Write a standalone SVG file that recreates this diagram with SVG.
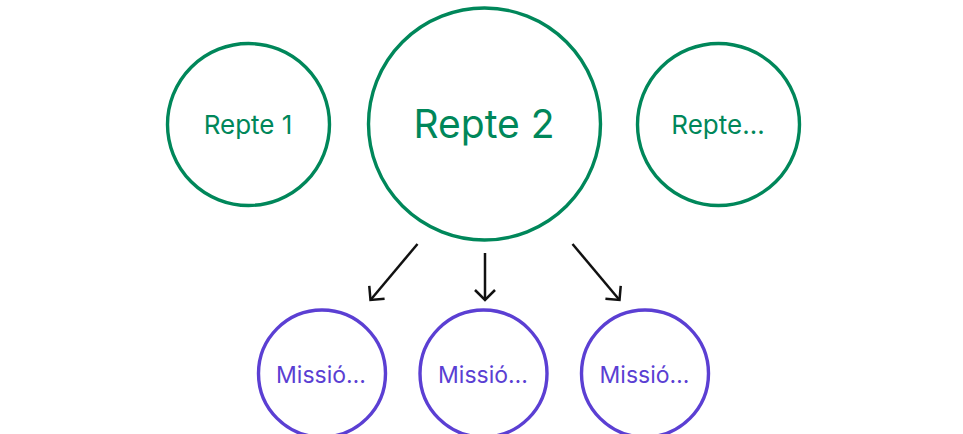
<svg xmlns="http://www.w3.org/2000/svg" width="963" height="434" viewBox="0 0 963 434">
  <style>
    .challenge circle { fill: #ffffff; stroke: #00875A; stroke-width: 3.4; }
    .challenge text { fill: #00875A; font-family: Inter, "Liberation Sans", sans-serif; text-anchor: middle; }
    .mission circle { fill: #ffffff; stroke: #5B3FD3; stroke-width: 3.4; }
    .mission text { fill: #5B3FD3; font-family: Inter, "Liberation Sans", sans-serif; font-size: 23px; text-anchor: middle; }
    .link { stroke: #111111; stroke-width: 2.5; fill: none; marker-end: url(#chevron); }
  </style>
  <defs>
    <!-- open 90-degree chevron arrowhead -->
    <marker id="chevron" viewBox="0 0 16 24" refX="13" refY="12" markerWidth="16" markerHeight="24" markerUnits="userSpaceOnUse" orient="auto">
      <path d="M3 2 L13 12 L3 22" fill="none" stroke="#111111" stroke-width="2.5"/>
    </marker>
  </defs>

  <rect width="963" height="434" fill="#ffffff"/>

  <g id="repte-1" class="challenge">
    <circle cx="248.5" cy="124.5" r="81"/>
    <text x="248" y="134" font-size="26">Repte 1</text>
  </g>
  <g id="repte-2" class="challenge">
    <circle cx="484.5" cy="124" r="116"/>
    <text x="484" y="138" font-size="39">Repte 2</text>
  </g>
  <g id="repte-more" class="challenge">
    <circle cx="718.5" cy="124.5" r="81"/>
    <text x="718" y="134" font-size="26">Repte…</text>
  </g>

  <g id="connectors">
    <line class="link" x1="417.5" y1="244" x2="370.5" y2="300"/>
    <line class="link" x1="485" y1="253" x2="485" y2="300"/>
    <line class="link" x1="572.5" y1="244" x2="619.5" y2="300"/>
  </g>

  <g id="missio-1" class="mission">
    <circle cx="322" cy="373.5" r="63.5"/>
    <text x="321" y="382.5">Missió…</text>
  </g>
  <g id="missio-2" class="mission">
    <circle cx="483.5" cy="373.5" r="63.5"/>
    <text x="483" y="382.5">Missió…</text>
  </g>
  <g id="missio-3" class="mission">
    <circle cx="645" cy="373.5" r="63.5"/>
    <text x="644.5" y="382.5">Missió…</text>
  </g>
</svg>
